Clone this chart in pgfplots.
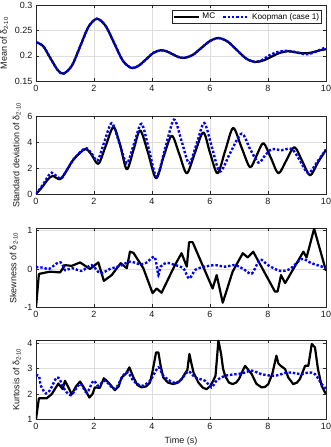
\documentclass[border=0pt]{standalone}
\usepackage{fontspec}
\setmainfont{Liberation Sans}
\usepackage{pgfplots}
\pgfplotsset{compat=1.18}
\definecolor{axgray}{rgb}{0.15,0.15,0.15}
\definecolor{gridgray}{rgb}{0.87,0.87,0.87}
\pgfplotsset{
  mstyle/.style={
    scale only axis, width=290pt, xmin=0, xmax=10, xtick={0,2,...,10},
    grid=major, major grid style={gridgray, line width=0.5pt},
    axis line style={axgray, line width=0.5pt},
    tick style={axgray, line width=0.5pt}, tick align=inside,
    major tick length=2.8pt,
    ticklabel style={font=\fontsize{9}{10}\selectfont, text=black!90},
    label style={font=\fontsize{9}{10}\selectfont, text=black!90},
    /pgf/number format/assume math mode=true,
    xticklabel style={yshift=-0.5pt},
    legend image code/.code={\draw[##1] (0cm,0cm) -- (0.9cm,0cm);},
  },
  mc/.style={black, line width=2.2pt, line join=round},
  kp/.style={blue, line width=2.4pt, dash pattern=on 2.4pt off 1.9pt},
}
\begin{document}
\begin{tikzpicture}
\useasboundingbox (0,0) rectangle (331pt,447pt);
% Panel 1: mean
\begin{axis}[mstyle, at={(36pt,365.7pt)}, anchor=south west, height=76.3pt,
  ymin=0.15, ymax=0.3, ytick={0.15,0.2,0.25,0.3},
  yticklabels={0.15,0.2,0.25,0.3},
  ylabel={Mean of δ\textsubscript{2-10}},
  legend columns=2,
  legend style={at={(rel axis cs:0.986,0.93)}, anchor=north east,
    font=\fontsize{8.2}{9}\selectfont, draw=axgray, line width=0.5pt,
    inner sep=0.5pt, row sep=-1pt,
    /tikz/every even column/.append style={column sep=5pt}},
]
\addplot[mc, smooth] coordinates {
(0,0.227) (0.25,0.219) (0.5,0.195) (0.75,0.172) (0.95,0.165)
(1.24,0.181) (1.525,0.219) (1.81,0.257) (2.1,0.273)
(2.4,0.259) (2.7,0.2245) (3.0,0.190) (3.3,0.176)
(3.55,0.181) (3.8,0.1935) (4.05,0.206) (4.3,0.211)
(4.5,0.209) (4.7,0.2035) (4.9,0.198) (5.1,0.196)
(5.4,0.2017) (5.7,0.2155) (6.0,0.2293) (6.3,0.235)
(6.61,0.228) (6.925,0.2115) (7.24,0.195) (7.55,0.188)
(7.84,0.191) (8.125,0.1985) (8.41,0.206) (8.7,0.209)
(8.95,0.207) (9.2,0.205) (9.4,0.2055) (9.6,0.208) (9.8,0.211) (10,0.213)
};
\addlegendentry{MC}
\addplot[kp, smooth] coordinates {
(0,0.227) (0.25,0.219) (0.5,0.195) (0.75,0.172) (0.95,0.165)
(1.24,0.181) (1.525,0.219) (1.81,0.257) (2.1,0.273)
(2.4,0.259) (2.7,0.2245) (3.0,0.190) (3.3,0.176)
(3.55,0.181) (3.8,0.1935) (4.05,0.206) (4.3,0.211)
(4.5,0.209) (4.7,0.2035) (4.9,0.198) (5.1,0.196)
(5.4,0.2017) (5.7,0.2155) (6.0,0.2293) (6.3,0.235)
(6.61,0.228) (6.925,0.2115) (7.24,0.195) (7.55,0.188)
(7.8,0.192) (8.05,0.201) (8.3,0.207) (8.6,0.210)
(8.9,0.208) (9.3,0.203) (9.6,0.207) (9.8,0.212) (10,0.217)
};
\addlegendentry{Koopman (case 1)}
\end{axis}
% Panel 2: standard deviation
\begin{axis}[mstyle, at={(36pt,253pt)}, anchor=south west, height=77.3pt,
  ymin=0, ymax=6, ytick={0,2,4,6},
  ylabel={Standard deviation of δ\textsubscript{2-10}},
]
\addplot[mc, smooth] coordinates {
(0,0) (0.2,0.5) (0.4,1.1) (0.57,1.4) (0.83,1.15) (1.05,1.8) (1.3,2.7)
(1.69,3.48) (1.9,3.1) (2.15,2.34) (2.4,3.7) (2.67,5.2) (2.9,3.8)
(3.13,1.92) (3.36,3.4) (3.59,4.93) (3.85,3.3) (4.14,1.22) (4.4,2.9)
(4.68,4.52) (4.94,3.1) (5.2,1.61) (5.48,3.2) (5.77,4.78) (6.0,3.2)
(6.26,1.61) (6.53,3.4) (6.8,5.12) (7.09,3.6) (7.38,2.08) (7.61,3.0)
(7.84,3.95) (8.1,2.8) (8.36,1.61) (8.63,2.6) (8.91,3.64) (9.18,2.55)
(9.45,1.45) (9.72,2.45) (10,3.43)
};
\addplot[kp, smooth] coordinates {
(0,0) (0.2,0.6) (0.4,1.3) (0.54,1.66) (0.85,1.2) (1.05,1.8) (1.3,2.7)
(1.69,3.55) (1.9,3.2) (2.12,2.6) (2.35,4.0) (2.61,5.5) (2.87,4.0)
(3.13,2.39) (3.38,3.9) (3.64,5.45) (3.9,3.4) (4.16,1.35) (4.46,3.6)
(4.76,5.77) (5.02,4.1) (5.28,2.39) (5.54,3.9) (5.8,5.51) (6.07,3.6)
(6.34,1.74) (6.7,3.2) (7.09,4.68) (7.38,3.5) (7.67,2.44) (7.9,3.0)
(8.13,3.48) (8.47,3.4) (8.82,3.5) (9.1,2.6) (9.39,1.61) (9.7,2.5) (10,3.45)
};
\node[anchor=south west, font=\fontsize{8.5}{9}\selectfont, text=black!90, inner sep=0.5pt]
  at (rel axis cs:0,1) {×10\textsuperscript{-3}};
\end{axis}
% Panel 3: skewness
\begin{axis}[mstyle, at={(36pt,139.7pt)}, anchor=south west, height=78.6pt,
  ymin=-1, ymax=1.05, ytick={-1,0,1},
  ylabel={Skewness of δ\textsubscript{2-10}},
]
\addplot[mc] coordinates {
(0,-1) (0.1,-0.13) (0.48,-0.07) (0.83,-0.09) (1.0,0.1) (1.23,0.08)
(1.52,0.17) (1.86,0.0) (2.15,0.17) (2.34,-0.31) (2.61,-0.16) (2.92,0.15)
(3.13,0.02) (3.24,0.45) (3.36,0.42) (3.7,0.02) (4.02,-0.63) (4.16,-0.51)
(4.33,-0.62) (4.79,0.1) (5.02,0.41) (5.2,0.06) (5.28,0.70) (5.4,0.70)
(6.09,-0.51) (6.23,-0.16) (6.44,-0.88) (6.78,-0.07) (7.13,0.41) (7.3,0.30)
(7.49,0.45) (8.24,-0.59) (8.33,-0.59) (8.45,-0.16) (8.59,-0.37) (9.22,0.45)
(9.33,0.3) (9.59,1.05) (10,-0.05)
};
\addplot[kp, smooth] coordinates {
(0,0.05) (0.28,0.03) (0.45,0.0) (0.77,0.17) (0.9,0.14) (1.0,-0.03)
(1.25,0.02) (1.57,-0.05) (1.92,0.1) (2.21,-0.11) (2.55,0.0) (2.9,0.08)
(3.24,0.19) (3.6,0.12) (3.8,0.16) (4.07,0.32) (4.16,0.1) (4.22,-0.16)
(4.3,0.06) (4.5,0.16) (4.8,0.1) (5.08,0.02) (5.28,-0.25) (5.5,-0.02)
(5.83,0.06) (6.17,0.1) (6.52,0.06) (6.86,0.1) (7.15,0.0) (7.44,-0.12)
(7.72,0.24) (8.0,0.1) (8.41,-0.05) (8.76,0.0) (9.16,0.26) (9.5,0.15) (10,0.03)
};
\end{axis}
% Panel 4: kurtosis
\begin{axis}[mstyle, at={(36pt,27.7pt)}, anchor=south west, height=79.3pt,
  ymin=1, ymax=4.13, ytick={1,2,3,4},
  ylabel={Kurtosis of δ\textsubscript{2-10}},
  xlabel={Time (s)},
]
\addplot[mc] coordinates {
(0,1.0) (0.1,1.83) (0.37,1.83) (0.54,1.99) (0.77,2.41) (0.92,2.19) (1.0,2.52)
(1.1,2.3) (1.23,1.99) (1.38,2.3) (1.52,2.49) (1.68,2.2) (1.84,1.86) (1.95,2.0)
(2.03,2.26) (2.2,2.24) (2.34,2.62) (2.5,2.45) (2.72,2.15) (2.85,2.3) (2.95,2.65)
(3.1,2.8) (3.22,3.05) (3.36,2.65) (3.5,2.35) (3.64,2.26) (3.8,2.3) (3.93,2.45)
(4.02,2.9) (4.14,3.64) (4.22,3.64) (4.3,3.1) (4.39,2.65) (4.55,2.45) (4.73,2.39)
(4.9,2.45) (5.03,2.6) (5.14,2.81) (5.22,2.95) (5.29,3.58) (5.36,3.2) (5.43,2.85)
(5.6,2.45) (5.75,2.25) (5.88,2.19) (6.0,2.3) (6.11,2.52) (6.19,2.72) (6.29,4.10)
(6.38,3.6) (6.45,3.0) (6.52,2.72) (6.65,2.45) (6.78,2.39) (6.9,2.45) (7.0,2.59)
(7.1,2.85) (7.21,3.11) (7.32,2.95) (7.44,2.78) (7.6,2.4) (7.78,2.26) (7.9,2.28)
(8.01,2.39) (8.15,2.8) (8.29,3.51) (8.36,3.2) (8.44,3.11) (8.59,2.98) (8.7,2.65)
(8.87,2.39) (9.0,2.45) (9.1,2.59) (9.28,3.11) (9.39,3.11) (9.51,3.97) (9.62,3.84)
(9.72,3.0) (9.85,2.32) (9.97,2.05) (10,2.02)
};
\addplot[kp, smooth] coordinates {
(0,2.72) (0.1,2.72) (0.17,2.32) (0.34,2.02) (0.48,2.15) (0.71,2.65) (0.83,2.55)
(0.94,2.26) (1.2,1.95) (1.52,2.4) (1.75,2.05) (1.98,2.52) (2.15,2.32) (2.38,2.52)
(2.72,2.2) (3.0,2.72) (3.17,2.85) (3.36,2.52) (3.64,2.32) (3.93,2.52) (4.22,3.05)
(4.39,2.72) (4.73,2.45) (4.97,2.52) (5.25,2.89) (5.49,2.65) (5.83,2.52) (6.05,2.26)
(6.22,2.52) (6.52,2.72) (7.09,2.81) (7.44,2.92) (7.78,2.78) (8.24,2.72) (8.7,2.85)
(9.16,2.78) (9.39,2.85) (9.62,2.78) (9.85,2.39) (10,2.2)
};
\end{axis}
\end{tikzpicture}
\end{document}
